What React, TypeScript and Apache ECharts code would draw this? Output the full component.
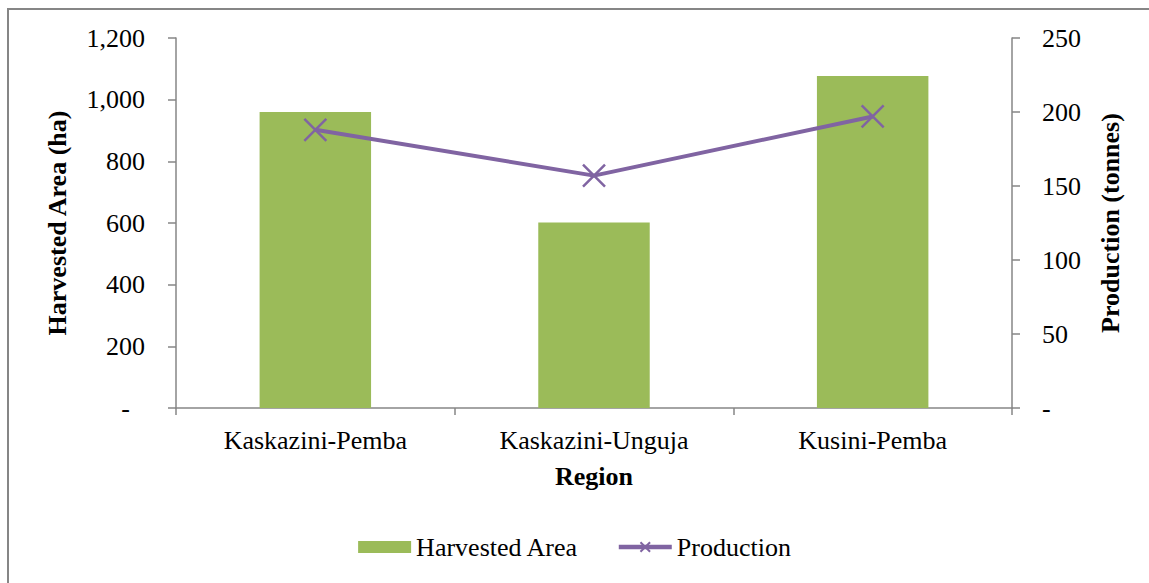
import React, { useEffect, useRef } from "react";
import * as echarts from "echarts";

const regions = ["Kaskazini-Pemba", "Kaskazini-Unguja", "Kusini-Pemba"];
const harvestedArea = [960, 602, 1077];
const production = [188, 157, 197];
const leftTicks = [0, 200, 400, 600, 800, 1000, 1200];
const rightTicks = [0, 50, 100, 150, 200, 250];

const FONT = "'Liberation Serif', 'Times New Roman', serif";
const AXIS_GRAY = "#868686";
const FS = 26;

export default function App() {
  const ref = useRef<HTMLDivElement>(null);
  useEffect(() => {
    if (!ref.current) return;
    const chart = echarts.init(ref.current, undefined, { renderer: "svg" });
    chart.setOption({
      animation: false,
      backgroundColor: "#ffffff",
      textStyle: { fontFamily: FONT, color: "#000" },
      graphic: [
        {
          type: "rect",
          shape: { x: 8, y: 9, width: 1170, height: 600 },
          style: { fill: "none", stroke: AXIS_GRAY, lineWidth: 2 },
          silent: true,
        },
      ],
      grid: { left: 176, right: 137, top: 38, bottom: 175 },
      legend: {
        bottom: 18,
        left: "center",
        itemGap: 38,
        itemWidth: 53,
        itemHeight: 12,
        textStyle: { fontFamily: FONT, fontSize: FS, color: "#000" },
        data: [
          { name: "Harvested Area", icon: "rect" },
          { name: "Production", lineStyle: { width: 4.5 } },
        ],
      },
      xAxis: {
        type: "category",
        data: regions,
        name: "Region",
        nameLocation: "middle",
        nameGap: 55,
        nameTextStyle: { fontFamily: FONT, fontSize: FS, fontWeight: "bold", color: "#000" },
        axisLine: { lineStyle: { color: AXIS_GRAY, width: 1.5 } },
        axisTick: { show: true, length: 7, lineStyle: { color: AXIS_GRAY, width: 1.5 } },
        axisLabel: { margin: 19, fontFamily: FONT, fontSize: FS, color: "#000" },
      },
      yAxis: [
        {
          type: "value",
          min: leftTicks[0],
          max: leftTicks[leftTicks.length - 1],
          interval: leftTicks[1] - leftTicks[0],
          name: "Harvested Area (ha)",
          nameLocation: "middle",
          nameRotate: 90,
          nameGap: 106,
          nameTextStyle: { fontFamily: FONT, fontSize: FS, fontWeight: "bold", color: "#000" },
          axisLine: { show: true, lineStyle: { color: AXIS_GRAY, width: 1.5 } },
          axisTick: { show: true, length: 8, lineStyle: { color: AXIS_GRAY, width: 1.5 } },
          splitLine: { show: false },
          axisLabel: {
            margin: 31,
            fontFamily: FONT,
            fontSize: FS,
            color: "#000",
            formatter: (v: number) =>
              v === 0 ? "{d|-}" : v.toLocaleString("en-US"),
            rich: { d: { fontFamily: FONT, fontSize: FS, color: "#000", padding: [0, 15, 0, 0] } },
          },
        },
        {
          type: "value",
          min: rightTicks[0],
          max: rightTicks[rightTicks.length - 1],
          interval: rightTicks[1] - rightTicks[0],
          name: "Production (tonnes)",
          nameLocation: "middle",
          nameRotate: 90,
          nameGap: 85,
          nameTextStyle: { fontFamily: FONT, fontSize: FS, fontWeight: "bold", color: "#000" },
          axisLine: { show: true, lineStyle: { color: AXIS_GRAY, width: 1.5 } },
          axisTick: { show: true, length: 8, lineStyle: { color: AXIS_GRAY, width: 1.5 } },
          splitLine: { show: false },
          axisLabel: {
            margin: 30,
            fontFamily: FONT,
            fontSize: FS,
            color: "#000",
            formatter: (v: number) => (v === 0 ? "-" : String(v)),
          },
        },
      ],
      series: [
        {
          name: "Harvested Area",
          type: "bar",
          data: harvestedArea,
          yAxisIndex: 0,
          barWidth: "40%",
          itemStyle: { color: "#9BBB59" },
        },
        {
          name: "Production",
          type: "line",
          data: production,
          yAxisIndex: 1,
          symbol: "path://M0,0L10,10M0,10L10,0",
          symbolSize: 22,
          lineStyle: { color: "#8064A2", width: 4 },
          itemStyle: { color: "#8064A2", borderColor: "#8064A2", borderWidth: 2.5 },
        },
      ],
    });
    return () => chart.dispose();
  }, []);
  return (
    <div
      ref={ref}
      style={{ position: "fixed", left: 0, top: 0, width: 1149, height: 583 }}
    />
  );
}
